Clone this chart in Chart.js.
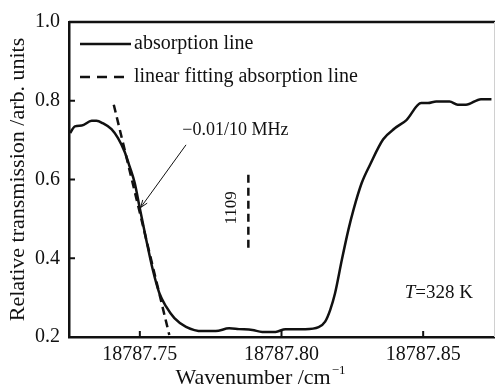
<!DOCTYPE html>
<html>
<head>
<meta charset="utf-8">
<script src="https://cdn.jsdelivr.net/npm/chart.js@4.4.0/dist/chart.umd.min.js"></script>
<style>
  html, body { margin: 0; padding: 0; background: #fff; }
  #wrap { width: 495px; height: 385px; }
</style>
</head>
<body>
<div id="wrap"><canvas id="chart" width="495" height="385"></canvas></div>
<script>
// absorption line
const wavenumbers = [
  18787.7254, 18787.7271, 18787.7295, 18787.7330, 18787.7347, 18787.7369,
  18787.7400, 18787.7423, 18787.7446, 18787.7464, 18787.7482, 18787.7499,
  18787.7523, 18787.7546, 18787.7569, 18787.7593, 18787.7622, 18787.7663,
  18787.7721, 18787.7768, 18787.7815, 18787.7850, 18787.7897, 18787.7932,
  18787.7979, 18787.8014, 18787.8084, 18787.8131, 18787.8154, 18787.8172,
  18787.8189, 18787.8213, 18787.8236, 18787.8254, 18787.8283, 18787.8312,
  18787.8359, 18787.8400, 18787.8441, 18787.8493, 18787.8517, 18787.8546,
  18787.8593, 18787.8622, 18787.8651, 18787.8704, 18787.8741
];
const transmission = [
  0.718, 0.735, 0.737, 0.749, 0.749, 0.743,
  0.728, 0.705, 0.671, 0.633, 0.591, 0.530,
  0.446, 0.370, 0.311, 0.277, 0.248, 0.226,
  0.215, 0.215, 0.222, 0.220, 0.218, 0.213,
  0.213, 0.220, 0.220, 0.225, 0.239, 0.269,
  0.311, 0.396, 0.472, 0.523, 0.591, 0.637,
  0.702, 0.730, 0.751, 0.794, 0.794, 0.798,
  0.798, 0.790, 0.790, 0.804, 0.804
];
// linear fit of the falling edge
const fitX = [18787.7408, 18787.7604];
const fitY = [0.790, 0.205];
// vertical marker labelled 1109
const markX = [18787.7883, 18787.7883];
const markY = [0.612, 0.421];

const xTicks = [18787.75, 18787.80, 18787.85];
const yTicks = [0.2, 0.4, 0.6, 0.8, 1.0];
const legendLabels = ["absorption line", "linear fitting absorption line"];

const serif = "'Liberation Serif', 'DejaVu Serif', serif";
const ink = "#111";

function toPoints(xs, ys) {
  return xs.map((x, i) => ({ x: x, y: ys[i] }));
}

// legend, inward ticks, frame and text notes
const extras = {
  id: "extras",
  afterDatasetsDraw(chart) {
    const ctx = chart.ctx;
    const area = chart.chartArea;
    const xs = chart.scales.x;
    const ys = chart.scales.y;
    ctx.save();
    ctx.strokeStyle = ink;
    ctx.fillStyle = ink;

    // frame: top black, right faint
    ctx.lineWidth = 2.5;
    ctx.beginPath();
    ctx.moveTo(area.left, area.top);
    ctx.lineTo(chart.width, area.top);
    ctx.stroke();
    ctx.strokeStyle = "#d0d0d0";
    ctx.lineWidth = 1;
    ctx.beginPath();
    ctx.moveTo(area.right + 0.5, area.top);
    ctx.lineTo(area.right + 0.5, area.bottom);
    ctx.stroke();

    // inward ticks
    ctx.strokeStyle = ink;
    ctx.lineWidth = 2;
    xTicks.forEach((v) => {
      const px = xs.getPixelForValue(v);
      ctx.beginPath();
      ctx.moveTo(px, area.bottom);
      ctx.lineTo(px, area.bottom - 6);
      ctx.stroke();
    });
    yTicks.forEach((v) => {
      const py = ys.getPixelForValue(v);
      ctx.beginPath();
      ctx.moveTo(area.left, py);
      ctx.lineTo(area.left + 6, py);
      ctx.stroke();
    });

    // x axis title with superscript, centred where the original sits
    ctx.textBaseline = "middle";
    ctx.textAlign = "left";
    ctx.font = "22px " + serif;
    const main = "Wavenumber /cm";
    const mw = ctx.measureText(main).width;
    ctx.font = "13px " + serif;
    const sup = "\u22121";
    const sw = ctx.measureText(sup).width;
    const startX = 260 - (mw + sw) / 2;
    ctx.font = "22px " + serif;
    ctx.fillText(main, startX, 378);
    ctx.font = "13px " + serif;
    ctx.fillText(sup, startX + mw + 1, 371);

    // legend
    ctx.font = "20px " + serif;
    const lx = area.left + 11;
    const rows = [area.top + 22, area.top + 55];
    ctx.lineWidth = 2.5;
    ctx.beginPath();
    ctx.moveTo(lx, rows[0]);
    ctx.lineTo(lx + 51, rows[0]);
    ctx.stroke();
    ctx.setLineDash([10, 7]);
    ctx.beginPath();
    ctx.moveTo(lx, rows[1]);
    ctx.lineTo(lx + 46, rows[1]);
    ctx.stroke();
    ctx.setLineDash([]);
    ctx.fillText(legendLabels[0], lx + 54, rows[0]);
    ctx.fillText(legendLabels[1], lx + 54, rows[1]);

    // slope note with arrow
    ctx.font = "18px " + serif;
    ctx.fillText("\u22120.01/10 MHz", xs.getPixelForValue(18787.7650), ys.getPixelForValue(0.726));
    const ax0 = xs.getPixelForValue(18787.7663), ay0 = ys.getPixelForValue(0.688);
    const ax1 = xs.getPixelForValue(18787.75026), ay1 = ys.getPixelForValue(0.5286);
    ctx.lineWidth = 1;
    ctx.beginPath();
    ctx.moveTo(ax0, ay0);
    ctx.lineTo(ax1, ay1);
    ctx.stroke();
    const ang = Math.atan2(ay1 - ay0, ax1 - ax0);
    ctx.beginPath();
    ctx.moveTo(ax1 - 8 * Math.cos(ang - 0.35), ay1 - 8 * Math.sin(ang - 0.35));
    ctx.lineTo(ax1, ay1);
    ctx.lineTo(ax1 - 8 * Math.cos(ang + 0.35), ay1 - 8 * Math.sin(ang + 0.35));
    ctx.stroke();

    // 1109 label, rotated
    ctx.save();
    ctx.translate(xs.getPixelForValue(18787.7822), ys.getPixelForValue(0.528));
    ctx.rotate(-Math.PI / 2);
    ctx.textAlign = "center";
    ctx.font = "17px " + serif;
    ctx.fillText("1109", 0, 0);
    ctx.restore();

    // temperature note
    const tx = xs.getPixelForValue(18787.8435);
    const ty = ys.getPixelForValue(0.311);
    ctx.font = "italic 19px " + serif;
    ctx.fillText("T", tx, ty);
    const tw = ctx.measureText("T").width;
    ctx.font = "19px " + serif;
    ctx.fillText("=328 K", tx + tw, ty);

    ctx.restore();
  }
};

new Chart(document.getElementById("chart"), {
  type: "line",
  data: {
    datasets: [
      {
        label: legendLabels[0],
        data: toPoints(wavenumbers, transmission),
        borderColor: ink,
        borderWidth: 2.5,
        pointRadius: 0,
        cubicInterpolationMode: "monotone",
        fill: false
      },
      {
        label: legendLabels[1],
        data: toPoints(fitX, fitY),
        borderColor: ink,
        borderWidth: 2.5,
        borderDash: [8, 5],
        pointRadius: 0,
        fill: false
      },
      {
        label: "1109",
        data: toPoints(markX, markY),
        borderColor: ink,
        borderWidth: 2.5,
        borderDash: [8, 5],
        pointRadius: 0,
        fill: false
      }
    ]
  },
  options: {
    responsive: false,
    animation: false,
    devicePixelRatio: 1,
    layout: { padding: { top: 22, right: 1, bottom: 0, left: 0 } },
    plugins: {
      legend: { display: false },
      tooltip: { enabled: false }
    },
    scales: {
      x: {
        type: "linear",
        min: 18787.725,
        max: 18787.875,
        afterBuildTicks: (scale) => {
          scale.ticks = xTicks.map((v) => ({ value: v }));
        },
        afterFit: (scale) => { scale.height = 48; },
        grid: { display: false, drawTicks: false },
        border: { display: true, color: ink, width: 2.5 },
        ticks: {
          padding: 6,
          color: ink,
          font: { family: serif, size: 20 },
          callback: (v) => v.toFixed(2)
        }
      },
      y: {
        min: 0.2,
        max: 1.0,
        afterBuildTicks: (scale) => {
          scale.ticks = yTicks.map((v) => ({ value: v }));
        },
        afterFit: (scale) => { scale.width = 69; },
        grid: { display: false, drawTicks: false },
        border: { display: true, color: ink, width: 2.5 },
        ticks: {
          padding: 9,
          color: ink,
          font: { family: serif, size: 20 },
          callback: (v) => v.toFixed(1)
        },
        title: {
          display: true,
          text: "Relative transmission /arb. units",
          color: ink,
          font: { family: serif, size: 22, lineHeight: 1 },
          padding: { top: 7, bottom: 0 }
        }
      }
    }
  },
  plugins: [extras]
});
</script>
</body>
</html>
